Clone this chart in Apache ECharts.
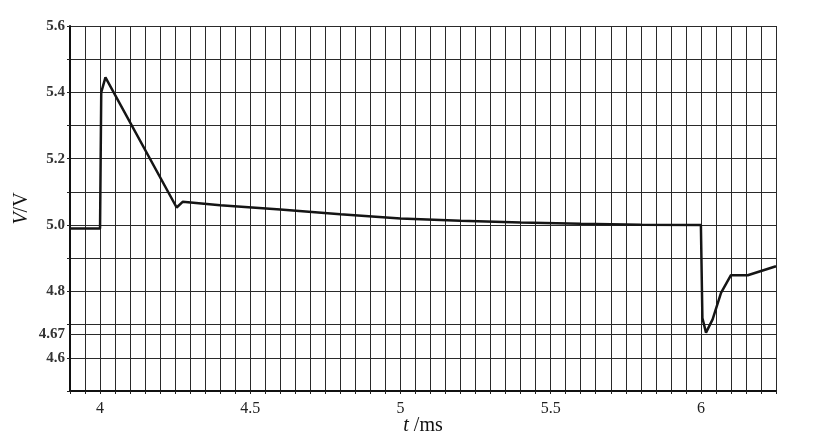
<!DOCTYPE html>
<html>
<head>
<meta charset="utf-8">
<script src="https://cdn.jsdelivr.net/npm/echarts@6/dist/echarts.min.js"></script>
<style>html,body{margin:0;padding:0;background:#fff}#c{width:825px;height:436px}</style>
</head>
<body>
<div id="c"></div>
<script>
// time (ms) and voltage (V) samples
var tValues = [3.9, 4.0, 4.004, 4.018, 4.255, 4.275, 4.4, 4.6, 4.8, 5.0, 5.2, 5.4, 5.6, 5.8, 6.0, 6.005, 6.017, 6.039, 6.067, 6.1, 6.156, 6.25];
var vValues = [4.99, 4.99, 5.40, 5.445, 5.053, 5.07, 5.06, 5.047, 5.033, 5.02, 5.013, 5.008, 5.004, 5.001, 5.0, 4.72, 4.676, 4.716, 4.796, 4.849, 4.849, 4.876];
var xTickLabels = [4, 4.5, 5, 5.5, 6];
var yTickLabels = [4.6, 4.8, 5.0, 5.2, 5.4, 5.6];
var yMarkValues = [4.67];

var data = tValues.map(function (t, i) { return [t, vValues[i]]; });
function inList(v, list) {
  for (var i = 0; i < list.length; i++) if (Math.abs(v - list[i]) < 1e-6) return true;
  return false;
}
var serif = '"Liberation Serif","DejaVu Serif",serif';
var chart = echarts.init(document.getElementById('c'));
chart.setOption({
  animation: false,
  backgroundColor: '#fff',
  grid: { left: 70, top: 26, right: 49, bottom: 45, containLabel: false, outerBoundsMode: 'none' },
  xAxis: {
    type: 'value', min: 3.9, max: 6.25, interval: 0.05,
    name: '{i|t} /ms', nameLocation: 'middle', nameGap: 25, nameMoveOverlap: false,
    nameTextStyle: { fontFamily: serif, fontSize: 20, color: '#111',
      rich: { i: { fontStyle: 'italic', fontFamily: serif, fontSize: 20, color: '#111' } } },
    axisLine: { show: true, lineStyle: { color: '#111', width: 2 } },
    axisTick: { show: true, length: 3, lineStyle: { color: '#222' } },
    axisLabel: {
      fontFamily: serif, fontSize: 16, color: '#222', margin: 10,
      formatter: function (v) { return inList(v, xTickLabels) ? String(+v.toFixed(2)) : ''; }
    },
    splitLine: { show: true, lineStyle: { color: '#2a2a2a', width: 1 } }
  },
  yAxis: {
    type: 'value', min: 4.5, max: 5.6, interval: 0.1,
    name: '{i|V}/V', nameLocation: 'middle', nameGap: 38, nameRotate: 90,
    nameTextStyle: { fontFamily: serif, fontSize: 20, color: '#111',
      rich: { i: { fontStyle: 'italic', fontFamily: serif, fontSize: 20, color: '#111' } } },
    axisLine: { show: true, lineStyle: { color: '#111', width: 2 } },
    axisTick: { show: true, length: 3, lineStyle: { color: '#222' } },
    axisLabel: {
      fontFamily: serif, fontSize: 15, fontWeight: 'bold', color: '#333', margin: 5,
      formatter: function (v) { return inList(v, yTickLabels) ? v.toFixed(1) : ''; }
    },
    splitLine: { show: true, lineStyle: { color: '#2a2a2a', width: 1 } }
  },
  series: [{
    type: 'line', data: data, symbol: 'none', smooth: false,
    lineStyle: { color: '#151515', width: 2.5 },
    markLine: {
      silent: true, symbol: 'none', animation: false,
      lineStyle: { color: '#2a2a2a', width: 1, type: 'solid' },
      label: { show: true, position: 'start', distance: 5, formatter: function (p) { return String(p.value); },
        fontFamily: serif, fontSize: 15, fontWeight: 'bold', color: '#333' },
      data: yMarkValues.map(function (v) { return { yAxis: v }; })
    }
  }]
});
</script>
</body>
</html>
